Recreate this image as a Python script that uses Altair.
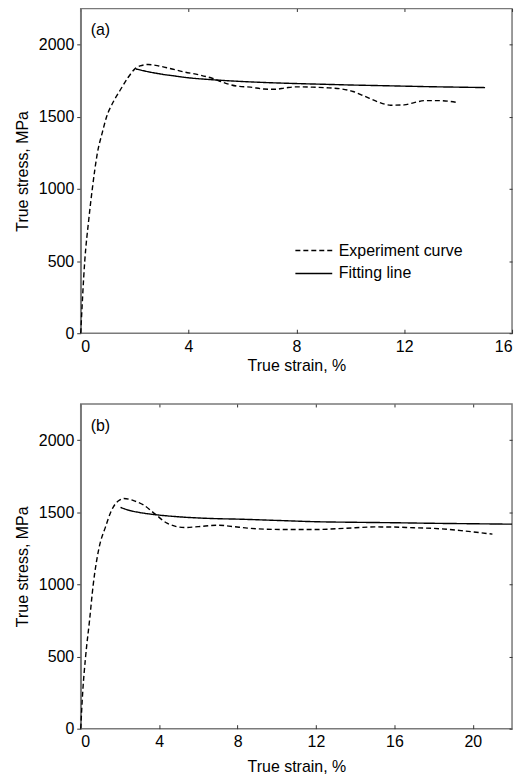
import altair as alt
import pandas as pd

# ---------------- data ----------------
exp_a_strain = [0, 0.15, 0.3, 0.43, 0.62, 0.8, 0.96, 1.2, 1.45, 1.75, 2.0, 2.2, 2.5, 2.9, 3.3,
                3.8, 4.4, 4.9, 5.3, 5.8, 6.3, 6.8, 7.2, 7.6, 8.0, 8.6, 9.2, 9.7, 10.1, 10.5,
                11.0, 11.5, 12.0, 12.4, 12.8, 13.3, 14.0]
exp_a_stress = [0, 500, 790, 1000, 1250, 1390, 1500, 1600, 1680, 1770, 1830, 1852, 1862, 1852, 1835,
                1812, 1790, 1765, 1737, 1712, 1705, 1692, 1690, 1700, 1707, 1705, 1700, 1692, 1675, 1645,
                1605, 1580, 1582, 1600, 1612, 1612, 1598]
fit_a_strain = [2.05, 2.5, 3, 3.5, 4, 5, 6, 7, 8, 9, 10, 11, 12, 13, 14, 15]
fit_a_stress = [1831, 1812, 1795, 1782, 1770, 1755, 1744, 1736, 1730, 1725, 1720, 1716, 1712, 1708, 1705, 1702]

exp_b_strain = [0, 0.1, 0.25, 0.45, 0.64, 0.93, 1.27, 1.53, 1.78, 2.0, 2.2, 2.7, 3.2, 3.8, 4.4,
                5.3, 6.0, 7.0, 7.8, 8.5, 9.5, 10.5, 12, 13, 14, 15, 16, 17, 18, 19.5, 21]
exp_b_stress = [0, 250, 500, 750, 1000, 1250, 1400, 1500, 1560, 1585, 1595, 1580, 1550, 1487, 1424,
                1394, 1400, 1410, 1400, 1390, 1382, 1380, 1380, 1385, 1392, 1398, 1397, 1392, 1388, 1371, 1348]
fit_b_strain = [2.03, 2.5, 3, 3.5, 4, 5, 6, 7, 8, 10, 12, 14, 16, 18, 20, 22]
fit_b_stress = [1533, 1512, 1498, 1488, 1480, 1468, 1460, 1455, 1452, 1443, 1434, 1430, 1427, 1423, 1420, 1417]

series_names = ["Experiment curve", "Fitting line"]
y_ticks = [0, 500, 1000, 1500, 2000]
x_ticks_a = [0, 4, 8, 12, 16]
x_ticks_b = [0, 4, 8, 12, 16, 20]

FONT = "Liberation Sans"
FRAME = "#7a7a7a"


def make_df(ex, ey, fx, fy):
    rows = [{"strain": x, "stress": y, "series": series_names[0], "order": i} for i, (x, y) in enumerate(zip(ex, ey))]
    rows += [{"strain": x, "stress": y, "series": series_names[1], "order": i} for i, (x, y) in enumerate(zip(fx, fy))]
    return pd.DataFrame(rows)


def panel(df, xmax, xticks, label, show_legend, xtitle_pad):
    xscale = alt.Scale(domain=[0, xmax], nice=False, zero=False)
    yscale = alt.Scale(domain=[0, 2250], nice=False)
    if show_legend:
        legend = alt.Legend(
            title=None, orient="none", legendX=223, legendY=232,
            symbolType="M-1.85,0H1.85", symbolSize=400, symbolStrokeWidth=1.4,
            symbolStrokeColor="black", symbolFillColor="transparent",
            labelFont=FONT, labelFontSize=16, labelColor="black",
            labelOffset=14, rowPadding=4,
        )
    else:
        legend = None
    lines = alt.Chart(df).mark_line(color="black", strokeWidth=1.4, interpolate="monotone").encode(
        x=alt.X("strain:Q", scale=xscale,
                axis=alt.Axis(title="True strain, %", values=xticks, format="d", grid=False,
                              domain=False, offset=-4, tickSize=4, labelPadding=5,
                              titlePadding=xtitle_pad)),
        y=alt.Y("stress:Q", scale=yscale,
                axis=alt.Axis(title="True stress, MPa", values=y_ticks, format="d", grid=False,
                              tickSize=4, labelPadding=3, titlePadding=8)),
        strokeDash=alt.StrokeDash("series:N",
                                  scale=alt.Scale(domain=series_names, range=[[5, 3], [1, 0]]),
                                  legend=legend),
        detail="series:N",
        order="order:Q",
    )
    mirror = alt.Chart(df).mark_point(opacity=0).encode(
        x=alt.X("strain:Q", scale=xscale,
                axis=alt.Axis(orient="top", title=None, labels=False, domain=False,
                              values=xticks, tickSize=3, grid=False, offset=-3)),
        y=alt.Y("stress:Q", scale=yscale,
                axis=alt.Axis(orient="right", title=None, labels=False, domain=False,
                              values=y_ticks, tickSize=3, grid=False, offset=-3)),
    )
    tag = alt.Chart(pd.DataFrame({"t": [label]})).mark_text(
        font=FONT, fontSize=16, color="black", align="left", baseline="middle"
    ).encode(text="t:N", x=alt.value(10), y=alt.value(22))
    return alt.layer(lines, mirror, tag).resolve_axis(x="independent", y="independent").properties(
        width=433, height=326
    )


df_a = make_df(exp_a_strain, exp_a_stress, fit_a_strain, fit_a_stress)
df_b = make_df(exp_b_strain, exp_b_stress, fit_b_strain, fit_b_stress)

chart = alt.vconcat(
    panel(df_a, 16, x_ticks_a, "(a)", True, 3),
    panel(df_b, 22, x_ticks_b, "(b)", False, 9),
    spacing=28,
).properties(padding={"left": 5, "top": -3, "right": 5, "bottom": 0}).configure_view(
    stroke=FRAME, strokeWidth=1.5
).configure_axis(
    labelFont=FONT, labelFontSize=16, labelColor="black",
    titleFont=FONT, titleFontSize=16, titleColor="black", titleFontWeight="normal",
    domainColor=FRAME, domainWidth=1.5, tickColor="#333333", tickWidth=1,
)

chart.save("out.html", embed_options={"renderer": "svg", "actions": False})
